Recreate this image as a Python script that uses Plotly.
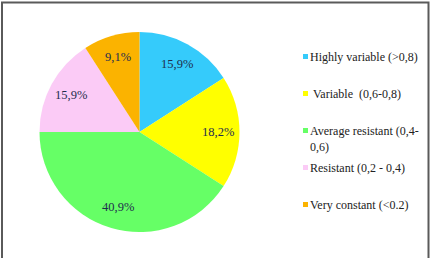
import math
import plotly.graph_objects as go

# ---- data ----
categories = ["Highly variable (>0,8)", "Variable (0,6-0,8)", "Average resistant (0,4-0,6)",
              "Resistant (0,2 - 0,4)", "Very constant (<0.2)"]
legend_text = ["Highly variable (&gt;0,8)", "\u00a0Variable \u00a0(0,6-0,8)",
               "Average resistant (0,4-<br>0,6)", "Resistant (0,2 - 0,4)", "Very constant (&lt;0.2)"]
values = [15.9, 18.2, 40.9, 15.9, 9.1]
value_labels = ["15,9%", "18,2%", "40,9%", "15,9%", "9,1%"]
colors = ["#35CBFB", "#FFFF00", "#66FF66", "#FBCBF6", "#FBB300"]

SERIF = "'Times New Roman', 'Liberation Serif', 'DejaVu Serif', serif"

W, H = 431, 258
cx, cy, R = 139.5, 132.0, 100.0

def px(x):
    return x / W

def py(y):
    return 1 - y / H

fig = go.Figure()
fig.add_trace(go.Pie(
    labels=categories, values=values, sort=False, direction="clockwise", rotation=0,
    marker=dict(colors=colors, line=dict(width=0)),
    textinfo="none", hoverinfo="label+value", showlegend=False,
    domain=dict(x=[px(cx - R), px(cx + R)], y=[py(cy + R), py(cy - R)]),
))

annotations = []
shapes = []
total = sum(values)
cum = 0.0
k = 0.78
for v, lab in zip(values, value_labels):
    th = 2 * math.pi * (cum + v / 2) / total
    cum += v
    x = cx + k * R * math.sin(th)
    y = cy - k * R * math.cos(th)
    annotations.append(dict(x=px(x), y=py(y), xref="paper", yref="paper", text=lab,
                            showarrow=False, xanchor="center", yanchor="middle",
                            font=dict(family=SERIF, size=12.5, color="#1E2D4E")))

# legend (manual, Excel-like evenly pitched slots)
ly0, pitch = 56.5, 37.0
for i, (t, c) in enumerate(zip(legend_text, colors)):
    yy = ly0 + pitch * i
    shapes.append(dict(type="rect", xref="paper", yref="paper",
                       x0=px(303), x1=px(308), y0=py(yy + 2.5), y1=py(yy - 2.5),
                       fillcolor=c, line=dict(width=0)))
    annotations.append(dict(x=px(308), y=py(yy - 8.8), xref="paper", yref="paper", text=t,
                            showarrow=False, xanchor="left", yanchor="top", align="left",
                            font=dict(family=SERIF, size=12, color="#222222")))

# outer frame
shapes.append(dict(type="rect", xref="paper", yref="paper",
                   x0=px(2), x1=px(428.5), y0=-0.2, y1=py(2.5),
                   line=dict(color="#5A5A5A", width=2), fillcolor="rgba(0,0,0,0)"))

fig.update_layout(width=W, height=H, margin=dict(l=0, r=0, t=0, b=0),
                  paper_bgcolor="white", plot_bgcolor="white",
                  annotations=annotations, shapes=shapes, showlegend=False)

fig.write_html("out.html")
